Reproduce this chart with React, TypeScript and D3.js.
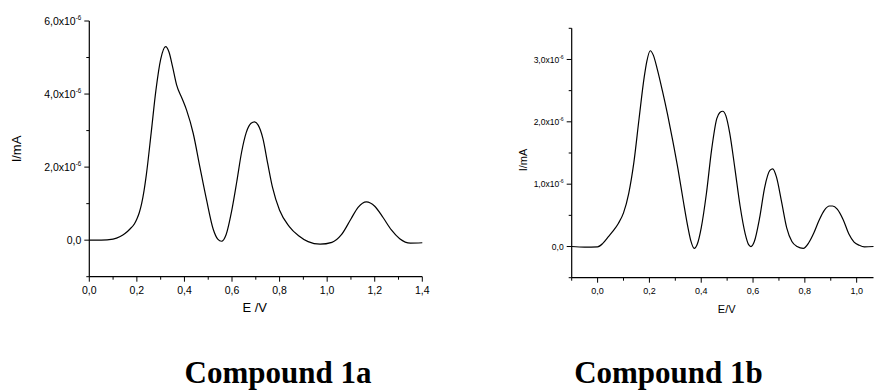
import React from "react";
import * as d3 from "d3";

// ---- Compound 1a ----
const E1 = [0, 0.05, 0.10, 0.13, 0.15, 0.17, 0.19, 0.20, 0.21, 0.22, 0.23, 0.24, 0.26, 0.28, 0.30, 0.321, 0.335, 0.35, 0.367, 0.39, 0.409, 0.437, 0.465, 0.493, 0.521, 0.54, 0.556, 0.575, 0.60, 0.62, 0.64, 0.66, 0.68, 0.695, 0.71, 0.73, 0.75, 0.77, 0.80, 0.84, 0.88, 0.92, 0.97, 1.02, 1.06, 1.10, 1.13, 1.165, 1.20, 1.235, 1.27, 1.305, 1.35, 1.40];
const I1 = [0, 0, 0.03, 0.1, 0.18, 0.3, 0.45, 0.58, 0.75, 1.0, 1.35, 1.8, 2.93, 4.1, 4.95, 5.3, 5.15, 4.75, 4.25, 3.88, 3.56, 2.92, 2.0, 1.1, 0.3, 0.03, -0.03, 0.15, 0.85, 1.6, 2.4, 2.95, 3.2, 3.24, 3.15, 2.78, 2.1, 1.45, 0.82, 0.38, 0.12, -0.04, -0.11, -0.06, 0.15, 0.58, 0.9, 1.05, 0.93, 0.62, 0.28, 0.04, -0.08, -0.07];
const X1_MAJOR = [0, 0.2, 0.4, 0.6, 0.8, 1.0, 1.2, 1.4];
const X1_MINOR = [0.1, 0.3, 0.5, 0.7, 0.9, 1.1, 1.3];
const Y1_MAJOR = [0, 2, 4, 6];
const Y1_MINOR = [-1, 1, 3, 5];

// ---- Compound 1b ----
const E2 = [-0.1, -0.05, 0.0, 0.02, 0.04, 0.06, 0.08, 0.10, 0.12, 0.14, 0.16, 0.18, 0.19, 0.203, 0.215, 0.23, 0.25, 0.27, 0.29, 0.31, 0.33, 0.35, 0.36, 0.373, 0.385, 0.40, 0.42, 0.44, 0.46, 0.472, 0.483, 0.495, 0.51, 0.53, 0.55, 0.57, 0.583, 0.592, 0.605, 0.625, 0.645, 0.665, 0.676, 0.69, 0.71, 0.73, 0.75, 0.77, 0.794, 0.815, 0.835, 0.855, 0.875, 0.895, 0.907, 0.925, 0.948, 0.97, 0.99, 1.01, 1.03, 1.065];
const I2 = [0, -0.01, -0.005, 0.05, 0.15, 0.25, 0.37, 0.54, 0.85, 1.35, 2.05, 2.72, 2.97, 3.14, 3.07, 2.85, 2.5, 2.12, 1.7, 1.25, 0.75, 0.28, 0.09, -0.03, 0.04, 0.3, 0.85, 1.55, 2.05, 2.15, 2.17, 2.1, 1.82, 1.25, 0.65, 0.2, 0.03, 0.0, 0.08, 0.45, 0.95, 1.22, 1.245, 1.12, 0.72, 0.3, 0.08, 0.0, -0.03, 0.06, 0.22, 0.42, 0.58, 0.65, 0.65, 0.6, 0.43, 0.2, 0.07, 0.02, -0.005, 0.0];
const X2_MAJOR = [0, 0.2, 0.4, 0.6, 0.8, 1.0];
const X2_MINOR = [-0.1, 0.1, 0.3, 0.5, 0.7, 0.9];
const Y2_MAJOR = [0, 1, 2, 3];
const Y2_MINOR = [-0.5, 0.5, 1.5, 2.5, 3.5];

const fmt = (v: number) => v.toFixed(1).replace(".", ",");

type PanelProps = {
  E: number[]; I: number[];
  xDomain: [number, number]; yDomain: [number, number];
  x0: number; x1: number; y0: number; y1: number;
  xMajor: number[]; xMinor: number[]; yMajor: number[]; yMinor: number[];
  tickFont: number; yTickFont: number; labelFont: number;
  xLabel: string; xLabelX: number; xLabelY: number;
  yLabelX: number; yLabelY: number;
  xTickY: number;
  title: string; titleX: number;
};

function Panel(p: PanelProps) {
  const x = d3.scaleLinear().domain(p.xDomain).range([p.x0, p.x1]);
  const y = d3.scaleLinear().domain(p.yDomain).range([p.y0, p.y1]);
  const pts = p.E.map((e, i) => [e, p.I[i]] as [number, number]);
  const line = d3.line<[number, number]>()
    .x(d => x(d[0]))
    .y(d => y(d[1] * 1e-6))
    .curve(d3.curveMonotoneX);
  const font = "Arial, 'Liberation Sans', sans-serif";
  return (
    <g>
      <path d={line(pts) || ""} fill="none" stroke="#000" strokeWidth={1.2} />
      <line x1={p.x0} x2={p.x0} y1={p.y0} y2={p.y1} stroke="#000" strokeWidth={1.2} />
      <line x1={p.x0} x2={p.x1} y1={p.y0} y2={p.y0} stroke="#000" strokeWidth={1.2} />
      {p.xMajor.map(v => (
        <g key={"xm" + v}>
          <line x1={x(v)} x2={x(v)} y1={p.y0} y2={p.y0 + 5} stroke="#000" strokeWidth={1} />
          <text x={x(v)} y={p.xTickY} fontSize={p.tickFont} fontFamily={font} textAnchor="middle">{fmt(v)}</text>
        </g>
      ))}
      {p.xMinor.map(v => (
        <line key={"xn" + v} x1={x(v)} x2={x(v)} y1={p.y0} y2={p.y0 + 3} stroke="#000" strokeWidth={1} />
      ))}
      {p.yMajor.map(v => (
        <g key={"ym" + v}>
          <line x1={p.x0 - 5} x2={p.x0} y1={y(v * 1e-6)} y2={y(v * 1e-6)} stroke="#000" strokeWidth={1} />
          <text x={p.x0 - 8} y={y(v * 1e-6) + p.yTickFont * 0.36} fontSize={p.yTickFont} fontFamily={font} textAnchor="end">
            {v === 0 ? "0,0" : (
              <>
                {fmt(v) + "x10"}
                <tspan fontSize={p.yTickFont * 0.6} dy={-p.yTickFont * 0.45}>-6</tspan>
              </>
            )}
          </text>
        </g>
      ))}
      {p.yMinor.map(v => (
        <line key={"yn" + v} x1={p.x0 - 3} x2={p.x0} y1={y(v * 1e-6)} y2={y(v * 1e-6)} stroke="#000" strokeWidth={1} />
      ))}
      <text x={p.xLabelX} y={p.xLabelY} fontSize={p.labelFont} fontFamily={font} textAnchor="middle">{p.xLabel}</text>
      <text transform={`translate(${p.yLabelX},${p.yLabelY}) rotate(-90)`} fontSize={p.labelFont} fontFamily={font} textAnchor="middle">I/mA</text>
      <text x={p.titleX} y={383} fontSize={31} fontWeight="bold" fontFamily="'Liberation Serif', 'Times New Roman', serif" textAnchor="middle">{p.title}</text>
    </g>
  );
}

export default function App() {
  return (
    <svg width={874} height={392} style={{ position: "absolute", left: 0, top: 0, background: "#fff" }}>
      <rect width={874} height={392} fill="#fff" />
      <Panel
        E={E1} I={I1}
        xDomain={[0, 1.4]} yDomain={[-1e-6, 6e-6]}
        x0={89.3} x1={422.3} y0={276.7} y1={21}
        xMajor={X1_MAJOR} xMinor={X1_MINOR} yMajor={Y1_MAJOR} yMinor={Y1_MINOR}
        tickFont={10.5} yTickFont={10.5} labelFont={13}
        xLabel="E /V" xLabelX={254.7} xLabelY={312}
        yLabelX={20.5} yLabelY={149}
        xTickY={294}
        title="Compound 1a" titleX={278}
      />
      <Panel
        E={E2} I={I2}
        xDomain={[-0.1, 1.065]} yDomain={[-0.5e-6, 3.5e-6]}
        x0={571.7} x1={873.5} y0={277.7} y1={28.3}
        xMajor={X2_MAJOR} xMinor={X2_MINOR} yMajor={Y2_MAJOR} yMinor={Y2_MINOR}
        tickFont={9} yTickFont={8.5} labelFont={11}
        xLabel="E/V" xLabelX={726.7} xLabelY={313}
        yLabelX={527} yLabelY={160}
        xTickY={294}
        title="Compound 1b" titleX={668.5}
      />
    </svg>
  );
}
